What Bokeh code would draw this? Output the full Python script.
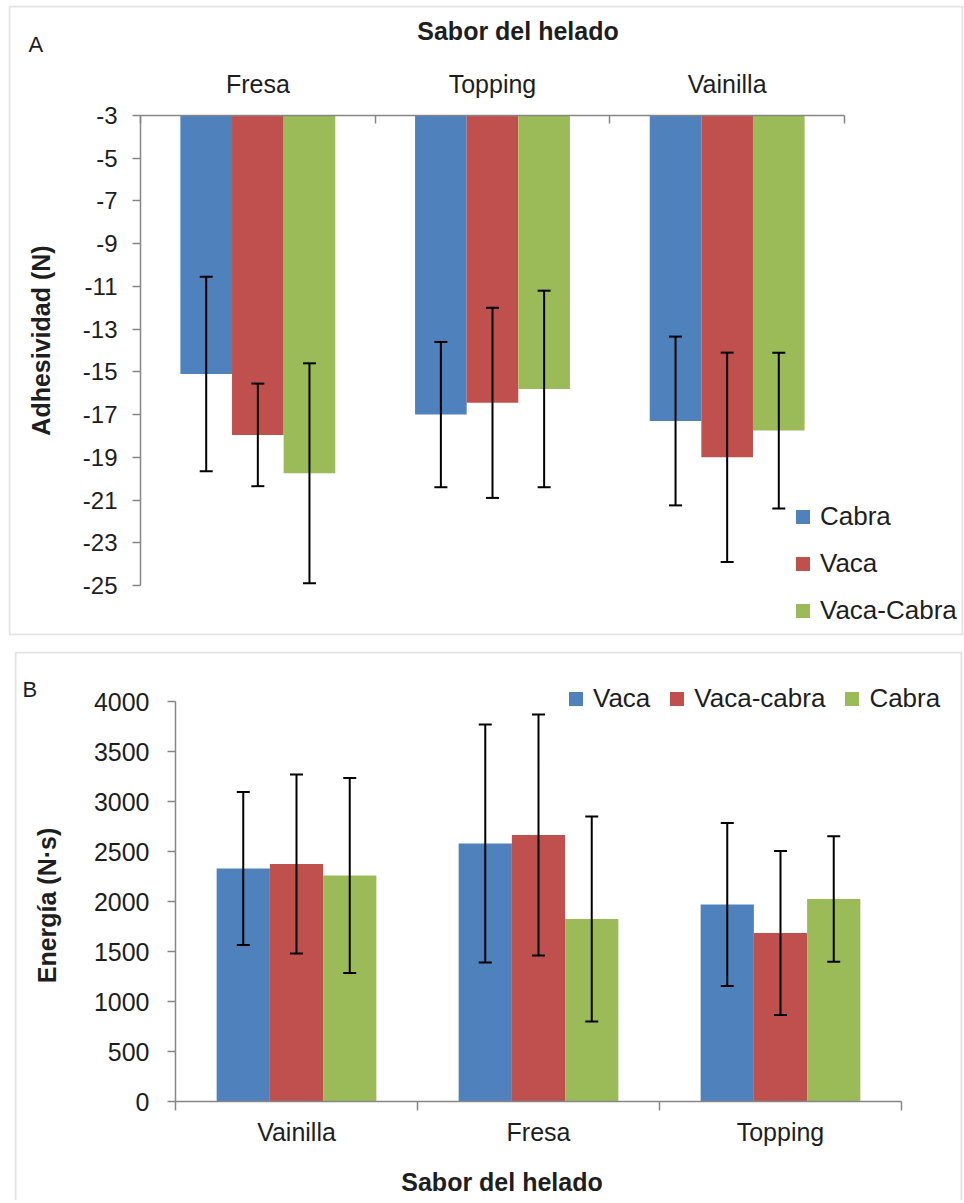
import math
import numpy as np
from bokeh.plotting import figure
from bokeh.models import (ColumnDataSource, Range1d, FixedTicker, Whisker, TeeHead,
                          Label, Legend, LegendItem, BoxAnnotation, LinearAxis)
from bokeh.layouts import column
from bokeh.embed import file_html
from bokeh.resources import INLINE

# ---------------- Panel A data ----------------
flavors_a = ["Fresa", "Topping", "Vainilla"]
series_a = ["Cabra", "Vaca", "Vaca-Cabra"]
adh_cabra = [-15.1, -17.0, -17.3]
adh_vaca = [-17.95, -16.45, -19.0]
adh_vacacabra = [-19.75, -15.8, -17.75]
err_adh_cabra = [4.55, 3.4, 3.95]
err_adh_vaca = [2.4, 4.45, 4.9]
err_adh_vacacabra = [5.15, 4.6, 3.65]
ticks_a = [-3, -5, -7, -9, -11, -13, -15, -17, -19, -21, -23, -25]
base_a = -3

# ---------------- Panel B data ----------------
flavors_b = ["Vainilla", "Fresa", "Topping"]
series_b = ["Vaca", "Vaca-cabra", "Cabra"]
en_vaca = [2330, 2580, 1970]
en_vacacabra = [2375, 2665, 1685]
en_cabra = [2260, 1825, 2025]
err_en_vaca = [765, 1190, 815]
err_en_vacacabra = [895, 1205, 820]
err_en_cabra = [975, 1025, 628]
ticks_b = [0, 500, 1000, 1500, 2000, 2500, 3000, 3500, 4000]
base_b = 0

BLUE, RED, GREEN = "#4F81BD", "#C0504D", "#9BBB59"
colors = [BLUE, RED, GREEN]
FONT = "Liberation Sans"
TXT = "#1e1e1e"
AXC = "#868686"
BORDER = "#a3a3a3"
BW = 0.22
N = 3
centers = [i + 0.5 for i in range(N)]
bounds = list(range(N + 1))


def frame_range(lo, hi, p_lo, p_hi, f_lo, f_hi):
    """Extend a data range [lo, hi] drawn between pixels p_lo..p_hi to the frame f_lo..f_hi."""
    scale = (p_hi - p_lo) / (hi - lo)
    return Range1d(lo - (p_lo - f_lo) / scale, hi + (f_hi - p_hi) / scale)


def add_bars(p, vals_list, errs_list, baseline, top_is_value):
    renderers = []
    for i, (vals, errs) in enumerate(zip(vals_list, errs_list)):
        x = np.array(centers) + (i - 1) * BW
        v = np.array(vals, dtype=float)
        e = np.array(errs, dtype=float)
        src = ColumnDataSource(dict(x=x, v=v, base=np.full(N, float(baseline)),
                                    upper=v + e, lower=v - e))
        if top_is_value:
            p.vbar(x="x", width=BW, top="v", bottom="base", source=src,
                   fill_color=colors[i], line_color=None)
        else:
            p.vbar(x="x", width=BW, top="base", bottom="v", source=src,
                   fill_color=colors[i], line_color=None)
        p.add_layout(Whisker(source=src, base="x", upper="upper", lower="lower",
                             level="overlay", line_color="black", line_width=2,
                             upper_head=TeeHead(size=13, line_color="black", line_width=2),
                             lower_head=TeeHead(size=13, line_color="black", line_width=2)))
        # zero-size square markers: used only as legend swatches
        r = p.scatter(x="x", y="v", source=src, size=0,
                      marker="square", fill_color=colors[i], line_color=None)
        renderers.append(r)
    return renderers


def label(p, x, y, text, size, bold=False, align="left", baseline="alphabetic", angle=0.0):
    p.add_layout(Label(x=x, y=y, x_units="screen", y_units="screen", text=text,
                       text_font=FONT, text_font_size=size,
                       text_font_style="bold" if bold else "normal",
                       text_color=TXT, text_align=align, text_baseline=baseline,
                       angle=angle))


def cat_axis(ticks_labels, fixed, side_in, side_out, standoff):
    ax = LinearAxis(fixed_location=fixed, bounds=(0, N),
                    ticker=FixedTicker(ticks=centers, minor_ticks=bounds),
                    major_label_overrides={c: f for c, f in zip(centers, ticks_labels)},
                    major_tick_line_color=None, major_tick_in=0, major_tick_out=0,
                    minor_tick_in=side_in, minor_tick_out=side_out,
                    minor_tick_line_color=AXC, minor_tick_line_width=1.5,
                    axis_line_color=AXC, axis_line_width=1.5,
                    major_label_text_font=FONT, major_label_text_font_size="25px",
                    major_label_text_color=TXT, major_label_standoff=standoff)
    return ax


def val_axis(ticks, lo, hi, size, standoff):
    ax = LinearAxis(fixed_location=0, bounds=(lo, hi),
                    ticker=FixedTicker(ticks=ticks, minor_ticks=[]),
                    major_label_overrides={t: str(t) for t in ticks},
                    major_tick_in=0, major_tick_out=8, major_tick_line_color=AXC,
                    major_tick_line_width=1.5, minor_tick_line_color=None,
                    axis_line_color=AXC, axis_line_width=1.5,
                    major_label_text_font=FONT, major_label_text_font_size=size,
                    major_label_text_color=TXT, major_label_standoff=standoff)
    return ax


def make_fig(width, height, xr, yr, top, bottom):
    p = figure(width=width, height=height, x_range=xr, y_range=yr,
               x_axis_location=None, y_axis_location=None,
               toolbar_location=None, output_backend="svg",
               min_border_left=8, min_border_right=1, min_border_top=top,
               min_border_bottom=bottom, title=None)
    p.grid.visible = False
    p.outline_line_color = None
    p.background_fill_color = "white"
    p.border_fill_color = "white"
    return p


def legend(items, loc, orientation, spacing):
    return Legend(items=items, location=loc, orientation=orientation,
                  glyph_width=35, glyph_height=35, label_height=35, label_standoff=0,
                  spacing=spacing, padding=0, margin=0, border_line_color=None,
                  background_fill_alpha=0, label_text_font=FONT,
                  label_text_font_size="26px", label_text_color=TXT)


# ================= Panel A =================
# frame spans x 8..963, y 5..635 ; data area x 140..844, y 115..585
pA = make_fig(964, 640,
              frame_range(0, N, 140, 844, 8, 963),
              frame_range(-25, -3, 635 - 585, 635 - 115, 0, 630),
              5, 5)
pA.add_layout(cat_axis(flavors_a, base_a, 8, 0, 18), "above")
pA.add_layout(val_axis(ticks_a, -25, -3, "24px", 15), "left")

rA = add_bars(pA, [adh_cabra, adh_vaca, adh_vacacabra],
              [err_adh_cabra, err_adh_vaca, err_adh_vacacabra], base_a, False)

pA.add_layout(legend([LegendItem(label=s, renderers=[r]) for s, r in zip(series_a, rA)],
                     (777, 7.5), "vertical", 12))

label(pA, 509.5, 605, "Sabor del helado", "25px", bold=True, align="center")
label(pA, 20, 591, "A", "22px")
label(pA, 32, 295, "Adhesividad (N)", "25px", bold=True, align="center",
      baseline="middle", angle=math.pi / 2)
pA.add_layout(BoxAnnotation(left=1, right=954, bottom=1, top=629,
                            left_units="screen", right_units="screen",
                            bottom_units="screen", top_units="screen",
                            fill_color=None, line_color=BORDER, line_width=2))

# ================= Panel B =================
# frame spans x 14..962, y 651..1200 ; data area x 175..901, y 701..1101
pB = make_fig(957, 560,
              frame_range(0, N, 175, 901, 14, 962),
              frame_range(0, 4000, 1200 - 1101, 1200 - 701, 0, 549),
              11, 0)
pB.margin = (0, 0, 0, 6)
pB.add_layout(cat_axis(flavors_b, base_b, 0, 9, 7), "below")
pB.add_layout(val_axis(ticks_b, 0, 4000, "25px", 18), "left")

rB = add_bars(pB, [en_vaca, en_vacacabra, en_cabra],
              [err_en_vaca, err_en_vacacabra, err_en_cabra], base_b, True)

pB.add_layout(legend([LegendItem(label=s, renderers=[r]) for s, r in zip(series_b, rB)],
                     (544, 484.5), "horizontal", 9))

label(pB, 8, 511, "B", "22px")
label(pB, 32, 295, "Energía (N·s)", "25px", bold=True, align="center",
      baseline="middle", angle=math.pi / 2)
label(pB, 487.5, 19, "Sabor del helado", "25px", bold=True, align="center")
pB.add_layout(BoxAnnotation(left=1, right=947, bottom=-20, top=548,
                            left_units="screen", right_units="screen",
                            bottom_units="screen", top_units="screen",
                            fill_color=None, line_color=BORDER, line_width=2))

layout = column(pA, pB, spacing=0)
open("out.html", "w").write(file_html(layout, INLINE))
